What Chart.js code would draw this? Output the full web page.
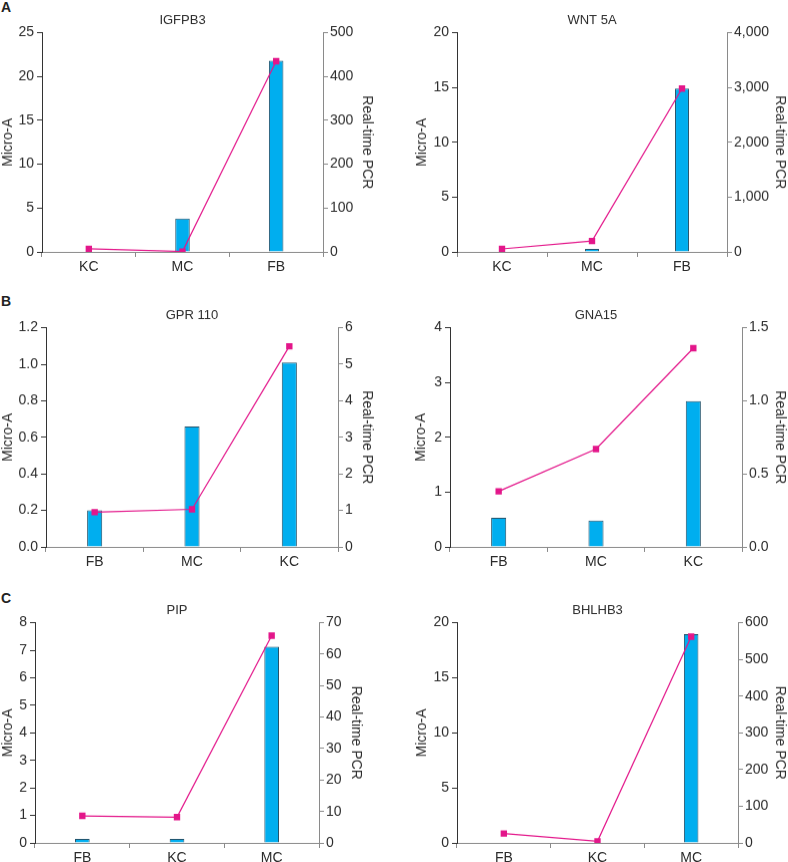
<!DOCTYPE html>
<html>
<head>
<meta charset="utf-8">
<script src="https://cdn.jsdelivr.net/npm/chart.js@4.4.1/dist/chart.umd.min.js"></script>
<style>
  body { margin: 0; background: #fff; width: 788px; height: 862px; overflow: hidden; position: relative; font-family: "Liberation Sans", Arial, sans-serif; }
  canvas { position: absolute; }
  .tag { position: absolute; left: 1px; font-weight: bold; font-size: 14px; color: #222; line-height: 14px; }
</style>
</head>
<body>
<div class="tag" style="top:0px">A</div>
<div class="tag" style="top:294px">B</div>
<div class="tag" style="top:591px">C</div>
<canvas id="igfpb3"></canvas>
<canvas id="wnt5a"></canvas>
<canvas id="gpr110"></canvas>
<canvas id="gna15"></canvas>
<canvas id="pip"></canvas>
<canvas id="bhlhb3"></canvas>
<script>
// Categories per panel
const catsA = ['KC', 'MC', 'FB'];
const catsB = ['FB', 'MC', 'KC'];
const catsC = ['FB', 'KC', 'MC'];

// Micro-array (bars, left axis) and real-time PCR (line, right axis)
const igfpb3Micro = [0, 3.8, 21.8];
const igfpb3Pcr = [7, 1, 435];
const wnt5aMicro = [0, 0.27, 14.9];
const wnt5aPcr = [55, 200, 2980];
const gpr110Micro = [0.2, 0.66, 1.01];
const gpr110Pcr = [0.95, 1.03, 5.49];
const gna15Micro = [0.53, 0.48, 2.66];
const gna15Pcr = [0.38, 0.67, 1.36];
const pipMicro = [0.15, 0.15, 7.13];
const pipPcr = [8.6, 8.2, 65.9];
const bhlhb3Micro = [0, 0, 18.95];
const bhlhb3Pcr = [25.5, 4.5, 562];

const FONT = "'Liberation Sans', Arial, sans-serif";
const TEXT = '#2b2b2b';
const TITLE_H = 19.6; // title line (13 * 1.2) + bottom padding

function comma(v) { return v.toLocaleString('en-US'); }
function oneDec(v) { return v.toFixed(1); }

function makePanel(id, title, labels, micro, pcr, left, right, box) {
    const cv = document.getElementById(id);
    const x0 = box.l - box.lw;
    const y0 = box.t - TITLE_H;
    const w = box.r + box.rw - x0;
    const h = box.b + box.xh - y0;
    cv.width = w; cv.height = h;
    cv.style.left = x0 + 'px';
    cv.style.top = y0 + 'px';
    cv.style.width = w + 'px';
    cv.style.height = h + 'px';

    new Chart(cv, {
        data: {
            labels: labels,
            datasets: [{
                type: 'line',
                data: pcr,
                yAxisID: 'y2',
                borderColor: '#e3168a',
                backgroundColor: '#e3168a',
                borderWidth: 1.2,
                pointStyle: 'rect',
                pointRadius: 4.5,
                pointBorderWidth: 0,
                tension: 0,
                order: 0
            }, {
                type: 'bar',
                data: micro,
                yAxisID: 'y',
                backgroundColor: '#00aeef',
                borderColor: '#24536b',
                borderWidth: 1,
                borderSkipped: 'bottom',
                barPercentage: 0.155,
                categoryPercentage: 1,
                order: 1
            }]
        },
        options: {
            responsive: false,
            animation: false,
            layout: { padding: 0 },
            plugins: {
                legend: { display: false },
                tooltip: { enabled: false },
                title: {
                    display: true,
                    text: title,
                    fullSize: false,
                    color: TEXT,
                    font: { family: FONT, size: 13, weight: 'normal' },
                    padding: { top: 0, bottom: 4 }
                }
            },
            scales: {
                x: {
                    grid: { offset: true, drawOnChartArea: false, tickLength: 5, color: '#8a8a8a' },
                    border: { color: '#8a8a8a' },
                    ticks: { color: TEXT, font: { family: FONT, size: 14 }, padding: 2 },
                    afterFit: s => { s.height = box.xh; }
                },
                y: {
                    position: 'left',
                    min: 0, max: left.max,
                    grid: { drawOnChartArea: false, tickLength: 5, color: '#333' },
                    border: { color: '#333' },
                    ticks: { stepSize: left.step, color: TEXT, font: { family: FONT, size: 14 }, padding: 3, callback: left.fmt || (v => v) },
                    title: { display: true, text: 'Micro-A', color: TEXT, font: { family: FONT, size: 14 }, padding: 0 },
                    afterFit: s => { s.width = box.lw; }
                },
                y2: {
                    position: 'right',
                    min: 0, max: right.max,
                    grid: { drawOnChartArea: false, tickLength: 5, color: '#8a8a8a' },
                    border: { color: '#8a8a8a' },
                    ticks: { stepSize: right.step, color: TEXT, font: { family: FONT, size: 14 }, padding: 2, callback: right.fmt || (v => v) },
                    title: { display: true, text: 'Real-time PCR', color: TEXT, font: { family: FONT, size: 14 }, padding: 0 },
                    afterFit: s => { s.width = box.rw; }
                }
            }
        }
    });
}

makePanel('igfpb3', 'IGFPB3', catsA, igfpb3Micro, igfpb3Pcr,
    { max: 25, step: 5 }, { max: 500, step: 100 },
    { l: 42, r: 323, t: 33, b: 252, lw: 42, rw: 52, xh: 24 });
makePanel('wnt5a', 'WNT 5A', catsA, wnt5aMicro, wnt5aPcr,
    { max: 20, step: 5 }, { max: 4000, step: 1000, fmt: comma },
    { l: 457, r: 727, t: 33, b: 252, lw: 43, rw: 61, xh: 24 });
makePanel('gpr110', 'GPR 110', catsB, gpr110Micro, gpr110Pcr,
    { max: 1.2, step: 0.2, fmt: oneDec }, { max: 6, step: 1 },
    { l: 46, r: 338, t: 328, b: 547, lw: 46, rw: 37, xh: 24 });
makePanel('gna15', 'GNA15', catsB, gna15Micro, gna15Pcr,
    { max: 4, step: 1 }, { max: 1.5, step: 0.5, fmt: oneDec },
    { l: 450, r: 742, t: 328, b: 547, lw: 37, rw: 46, xh: 24 });
makePanel('pip', 'PIP', catsC, pipMicro, pipPcr,
    { max: 8, step: 1 }, { max: 70, step: 10 },
    { l: 35, r: 319, t: 623, b: 843, lw: 35, rw: 45, xh: 19 });
makePanel('bhlhb3', 'BHLHB3', catsC, bhlhb3Micro, bhlhb3Pcr,
    { max: 20, step: 5 }, { max: 600, step: 100 },
    { l: 457, r: 738, t: 623, b: 843, lw: 43, rw: 50, xh: 19 });
</script>
</body>
</html>
